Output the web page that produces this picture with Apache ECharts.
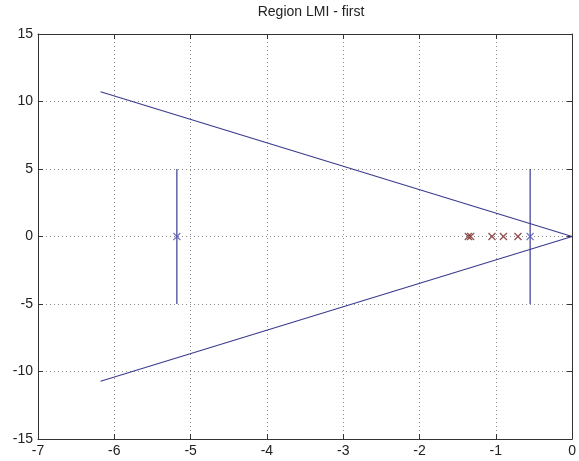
<!DOCTYPE html>
<html><head><meta charset="utf-8">
<script src="https://cdn.jsdelivr.net/npm/echarts@6/dist/echarts.min.js"></script>
<style>html,body{margin:0;padding:0;background:#fff}#c{width:579px;height:461px}</style>
</head><body><div id="c"></div>
<script>
const titleText = 'Region LMI - first';
const xTicks = [-7,-6,-5,-4,-3,-2,-1,0];
const yTicks = [-15,-10,-5,0,5,10,15];
const coneUpper = [[-6.18, 10.72],[0,0]];
const coneLower = [[-6.18,-10.72],[0,0]];
const vLineLeft = [[-5.18,-5],[-5.18,5]];
const vLineRight = [[-0.55,-5],[-0.55,5]];
const bluePoles = [[-5.18,0],[-0.55,0]];
const redPoles = [[-1.36,0],[-1.33,0],[-1.05,0],[-0.90,0],[-0.71,0]];

const lineColor = '#3b3b8f';
const xSym = 'path://M0,0L10,10M10,0L0,10';
const chart = echarts.init(document.getElementById('c'));
const fontFam = 'Liberation Sans, Arial, sans-serif';
const axisLine = {show:true,onZero:false,lineStyle:{color:'#333',width:1}};
const axisTick = {show:true,inside:true,length:5,lineStyle:{color:'#333'}};
const gridLine = {show:true,lineStyle:{color:'#8a8a8a',type:[1,3],width:1}};
function line(data){return {type:'line',data,xAxisIndex:0,yAxisIndex:0,symbol:'none',lineStyle:{color:lineColor,width:1.2},z:3,animation:false};}
chart.setOption({
  animation:false,
  title:{text:titleText,left:306,top:0,textAlign:'center',textStyle:{fontFamily:fontFam,fontSize:14,fontWeight:'normal',color:'#222'}},
  grid:{left:38,right:6,top:34,bottom:22,containLabel:false},
  xAxis:[
    {type:'value',min:-7,max:0,interval:1,position:'bottom',axisLine,axisTick,
      axisLabel:{color:'#222',fontSize:14,fontFamily:fontFam,margin:5},splitLine:gridLine},
    {type:'value',min:-7,max:0,interval:1,position:'top',axisLine,axisTick,axisLabel:{show:false},splitLine:{show:false}}
  ],
  yAxis:[
    {type:'value',min:-15,max:15,interval:5,position:'left',axisLine,axisTick,
      axisLabel:{color:'#222',fontSize:14,fontFamily:fontFam,margin:5},splitLine:gridLine},
    {type:'value',min:-15,max:15,interval:5,position:'right',axisLine,axisTick,axisLabel:{show:false},splitLine:{show:false}}
  ],
  series:[
    line(coneUpper), line(coneLower), line(vLineLeft), line(vLineRight),
    {type:'scatter',data:redPoles,symbol:xSym,symbolSize:7,itemStyle:{color:'transparent',borderColor:'#7a2a2a',borderWidth:1.4},z:4},
    {type:'scatter',data:bluePoles,symbol:xSym,symbolSize:7,itemStyle:{color:'transparent',borderColor:'#5555bb',borderWidth:1.2},z:4}
  ]
});
</script></body></html>
